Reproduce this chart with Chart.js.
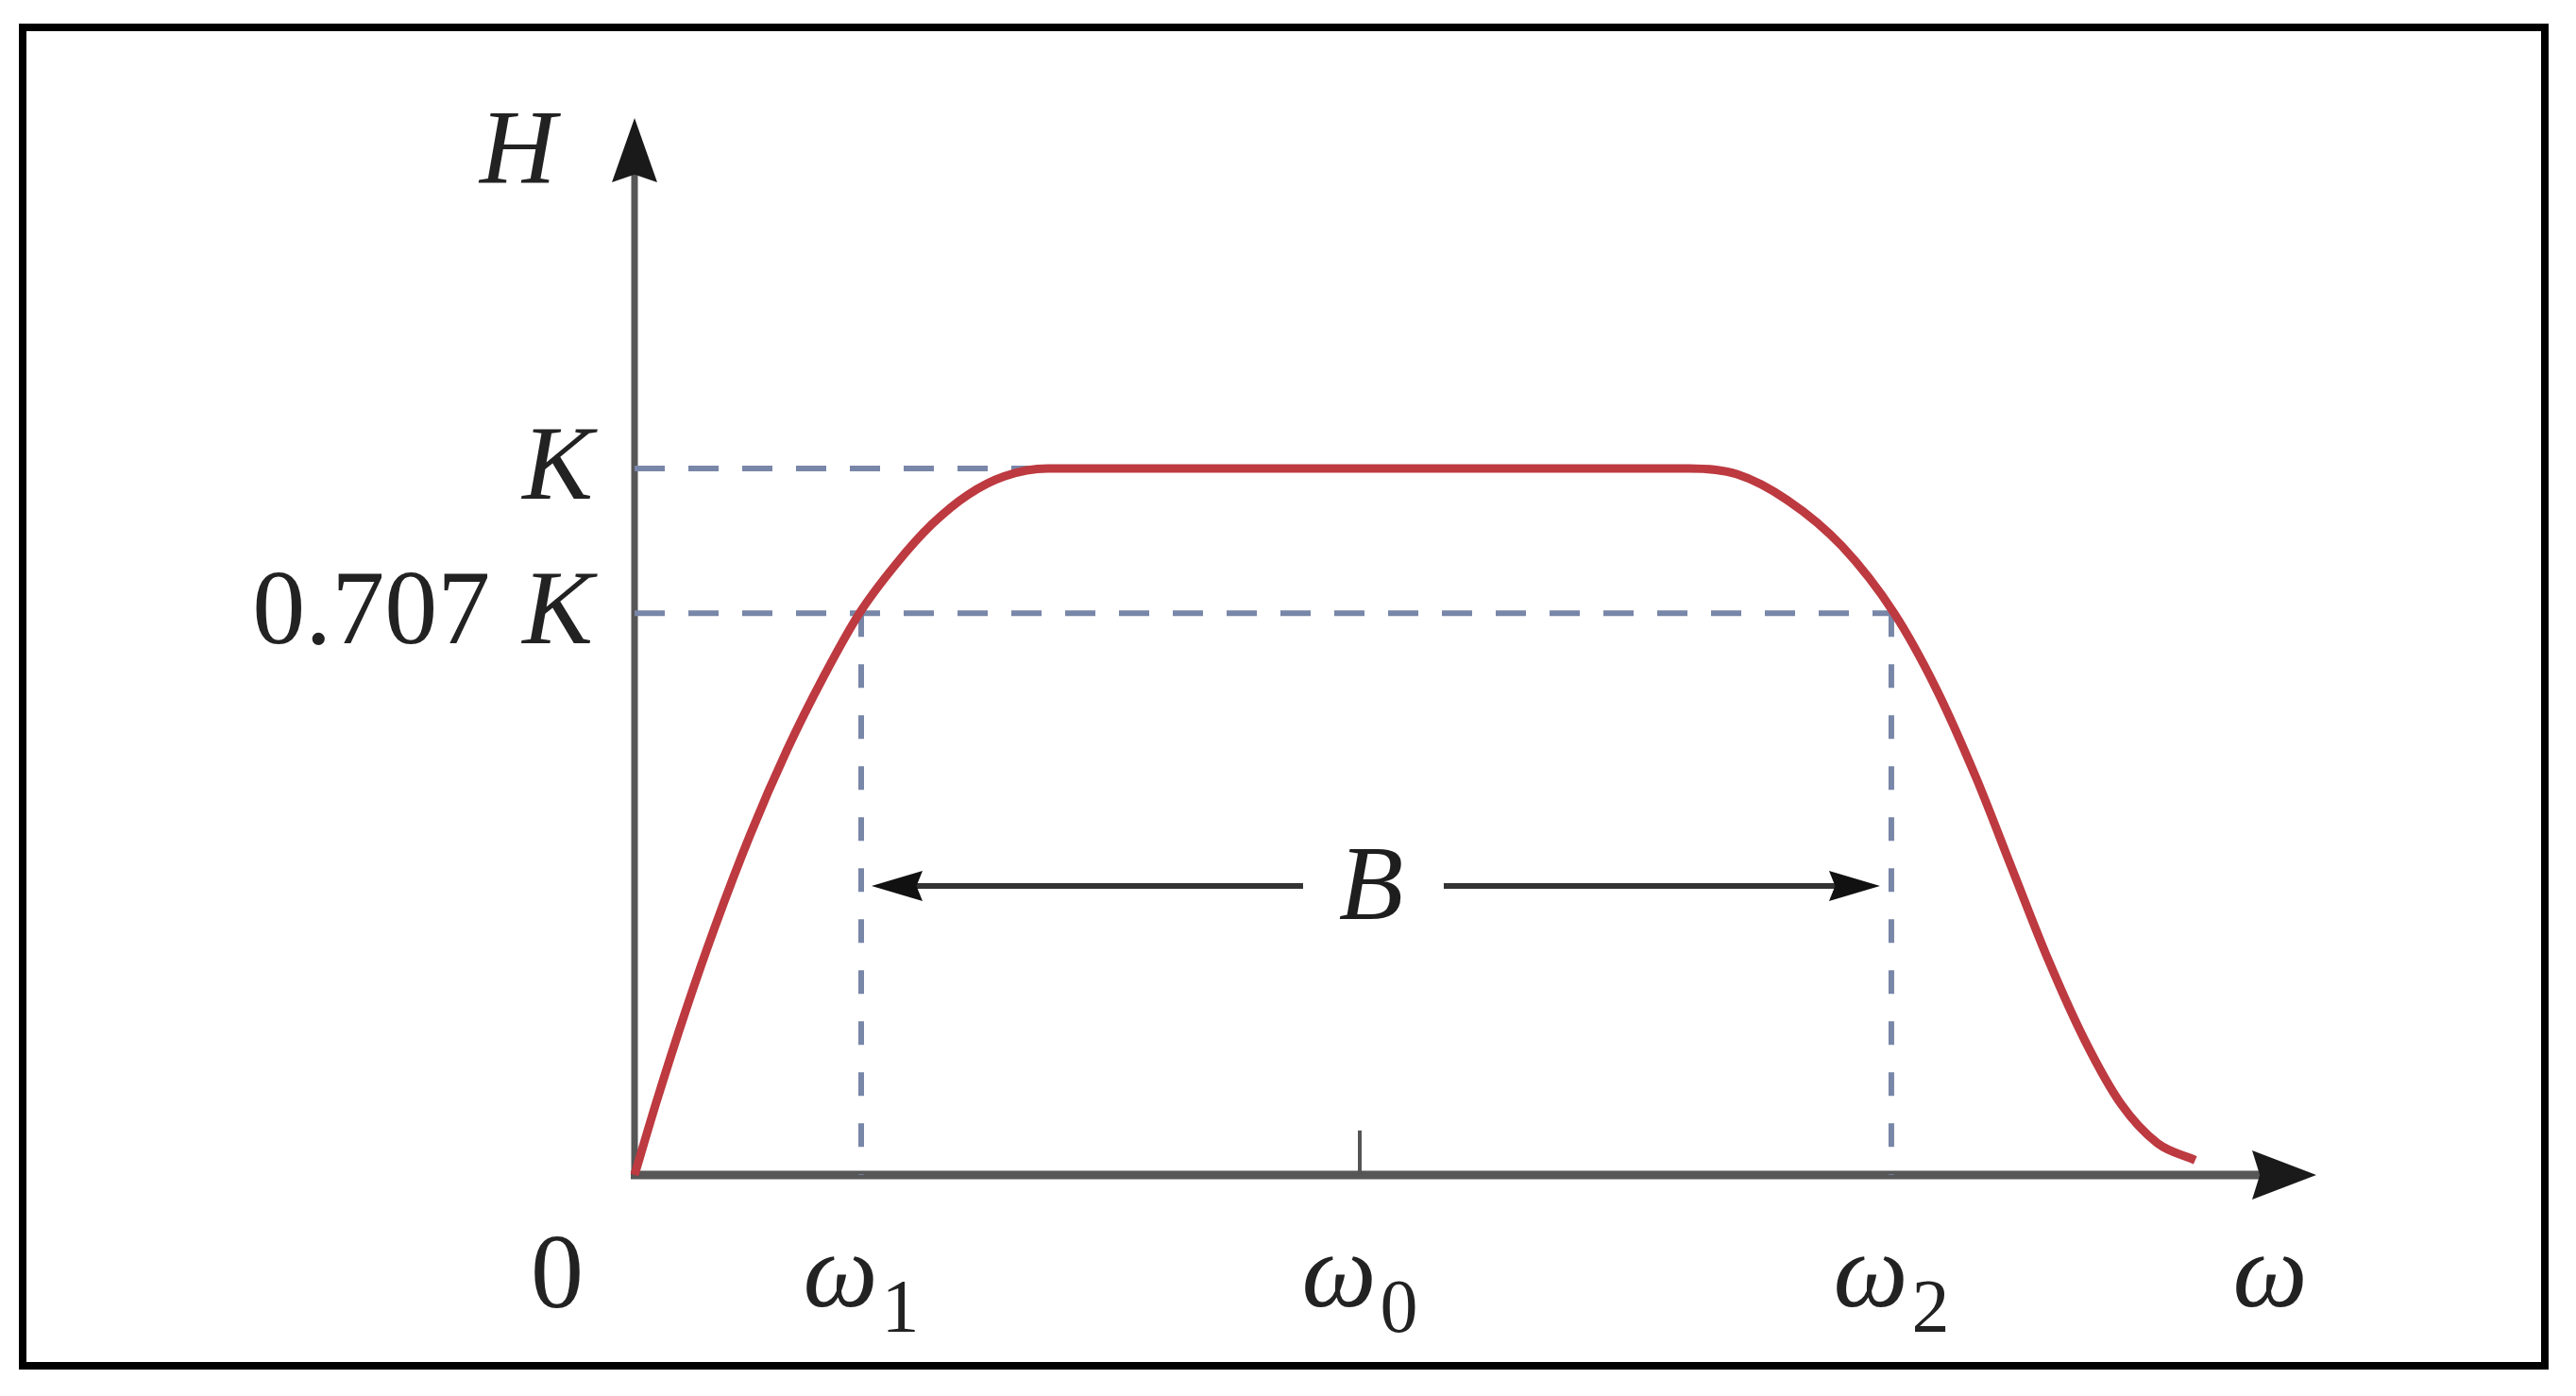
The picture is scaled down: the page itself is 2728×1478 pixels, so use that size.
<!DOCTYPE html>
<html>
<head>
<meta charset="utf-8">
<script src="https://cdn.jsdelivr.net/npm/chart.js@4/dist/chart.umd.min.js"></script>
<style>
  html, body { margin: 0; padding: 0; background: #ffffff; }
  canvas { display: block; }
</style>
</head>
<body>
<canvas id="c" width="2728" height="1478"></canvas>
<script>
// ---- data (x in units of ω0, y in units of K) ----
const curveX = [0, 0.03, 0.07, 0.11, 0.16, 0.21, 0.26, 0.31, 0.36, 0.41, 0.46, 0.51, 0.57, 1.00, 1.454, 1.52, 1.59, 1.665, 1.737, 1.795, 1.85, 1.90, 1.95, 2.00, 2.05, 2.10, 2.152];
const curveY = [0, 0.103, 0.231, 0.349, 0.483, 0.601, 0.704, 0.795, 0.864, 0.921, 0.963, 0.989, 1.00, 1.00, 1.00, 0.992, 0.955, 0.89, 0.795, 0.688, 0.562, 0.432, 0.303, 0.19, 0.10, 0.045, 0.021];
const omegaValues = [0.3125, 1.0, 1.733];            // ω1, ω0, ω2
const omegaLabels = ['1', '0', '2'];                  // subscripts
const levelValues = [1.0, 0.795];                     // K, 0.707 K (as drawn)
const levelLabels = ['K', '0.707 K'];
const kLineEnd = 0.57;                                // where curve reaches K
const bandY = 0.409;                                  // height of the B arrow
const axisMax = { x: 2.319, y: 1.496 };
const omega0Tick = 0.063;

const pts = (xs, ys) => xs.map((x, i) => ({ x: x, y: ys[i] }));
const DASH = '#7886a8';
const RED = '#bd3a40';

const datasets = [
  { data: pts(curveX, curveY), borderColor: RED, borderWidth: 9, cubicInterpolationMode: 'monotone', order: 0 },
  { data: pts([0, kLineEnd], [levelValues[0], levelValues[0]]), borderColor: DASH, borderWidth: 6, borderDash: [32, 25], order: 2 },
  { data: pts([0, omegaValues[2]], [levelValues[1], levelValues[1]]), borderColor: DASH, borderWidth: 6, borderDash: [32, 25], order: 2 },
  { data: pts([omegaValues[0], omegaValues[0]], [levelValues[1], 0]), borderColor: DASH, borderWidth: 6, borderDash: [25, 29], order: 2 },
  { data: pts([omegaValues[2], omegaValues[2]], [levelValues[1], 0]), borderColor: DASH, borderWidth: 6, borderDash: [25, 29], order: 2 },
  { data: pts([omegaValues[1], omegaValues[1]], [0, omega0Tick]), borderColor: '#555555', borderWidth: 4, order: 3 }
];

function arrowHead(ctx, tx, ty, dir, len, wid, color) {
  ctx.save();
  ctx.fillStyle = color;
  ctx.beginPath();
  const notch = len * 0.12;
  if (dir === 'up') {
    ctx.moveTo(tx, ty);
    ctx.lineTo(tx + wid / 2, ty + len);
    ctx.lineTo(tx, ty + len - notch);
    ctx.lineTo(tx - wid / 2, ty + len);
  } else if (dir === 'right') {
    ctx.moveTo(tx, ty);
    ctx.lineTo(tx - len, ty - wid / 2);
    ctx.lineTo(tx - len + notch, ty);
    ctx.lineTo(tx - len, ty + wid / 2);
  } else {
    ctx.moveTo(tx, ty);
    ctx.lineTo(tx + len, ty - wid / 2);
    ctx.lineTo(tx + len - notch, ty);
    ctx.lineTo(tx + len, ty + wid / 2);
  }
  ctx.closePath();
  ctx.fill();
  ctx.restore();
}

const SERIF = '"Liberation Serif", "DejaVu Serif", serif';

const figurePlugin = {
  id: 'figure',
  beforeDatasetsDraw(chart) {
    const ctx = chart.ctx;
    const xs = chart.scales.x, ys = chart.scales.y;
    const x0 = xs.getPixelForValue(0), y0 = ys.getPixelForValue(0);
    const xTip = xs.getPixelForValue(axisMax.x), yTip = ys.getPixelForValue(axisMax.y);
    ctx.save();
    ctx.strokeStyle = '#575757';
    ctx.lineCap = 'butt';
    ctx.lineWidth = 9;
    ctx.beginPath(); ctx.moveTo(x0 - 4, y0); ctx.lineTo(xTip - 40, y0); ctx.stroke();
    ctx.lineWidth = 7;
    ctx.beginPath(); ctx.moveTo(x0, y0 + 4); ctx.lineTo(x0, yTip + 40); ctx.stroke();
    ctx.restore();
    arrowHead(ctx, xTip, y0, 'right', 68, 52, '#1a1a1a');
    arrowHead(ctx, x0, yTip, 'up', 68, 48, '#1a1a1a');
  },
  afterDatasetsDraw(chart) {
    const ctx = chart.ctx;
    const xs = chart.scales.x, ys = chart.scales.y;
    const xl = xs.getPixelForValue(omegaValues[0]) + 11;
    const xr = xs.getPixelForValue(omegaValues[2]) - 12;
    const yb = ys.getPixelForValue(bandY);
    const xc = (xl + xr) / 2 - 5;
    ctx.save();
    ctx.strokeStyle = '#333333';
    ctx.lineWidth = 6;
    ctx.beginPath(); ctx.moveTo(xl + 40, yb); ctx.lineTo(xc - 72, yb); ctx.stroke();
    ctx.beginPath(); ctx.moveTo(xc + 77, yb); ctx.lineTo(xr - 40, yb); ctx.stroke();
    ctx.restore();
    arrowHead(ctx, xl, yb, 'left', 54, 32, '#111111');
    arrowHead(ctx, xr, yb, 'right', 54, 32, '#111111');
    ctx.save();
    ctx.fillStyle = '#1e1e1e';
    ctx.font = 'italic 112px ' + SERIF;
    ctx.textAlign = 'center';
    ctx.textBaseline = 'alphabetic';
    ctx.fillText('B', xc, yb + 35);
    ctx.restore();
  },
  afterDraw(chart) {
    const ctx = chart.ctx;
    const xs = chart.scales.x, ys = chart.scales.y;
    const x0 = xs.getPixelForValue(0), y0 = ys.getPixelForValue(0);
    const yTip = ys.getPixelForValue(axisMax.y);
    const xTip = xs.getPixelForValue(axisMax.x);
    ctx.save();
    ctx.fillStyle = '#222222';
    ctx.textBaseline = 'alphabetic';
    const ital = 'italic 112px ' + SERIF;
    const up = '112px ' + SERIF;
    const sub = '80px ' + SERIF;

    ctx.font = ital; ctx.textAlign = 'left';
    ctx.fillText('H', x0 - 164, yTip + 68);

    const rightEdge = x0 - 44;
    levelValues.forEach((v, i) => {
      const py = ys.getPixelForValue(v) + 32;
      const lab = levelLabels[i];
      ctx.font = ital;
      const kW = ctx.measureText('K').width;
      ctx.textAlign = 'left';
      ctx.fillText('K', rightEdge - kW, py);
      if (lab.length > 1) {
        ctx.font = up;
        ctx.textAlign = 'right';
        ctx.fillText(lab.replace(' K', ''), rightEdge - kW - 34, py);
      }
    });

    ctx.font = up; ctx.textAlign = 'center';
    ctx.fillText('0', x0 - 82, y0 + 140);

    const base = y0 + 139;
    omegaValues.forEach((v, i) => {
      const px = xs.getPixelForValue(v);
      ctx.font = ital;
      const wW = ctx.measureText('ω').width;
      ctx.font = sub;
      const sW = ctx.measureText(omegaLabels[i]).width;
      const total = wW + 4 + sW;
      const left = px - total / 2;
      ctx.textAlign = 'left';
      ctx.font = ital;
      ctx.fillText('ω', left, base);
      ctx.font = sub;
      ctx.fillText(omegaLabels[i], left + wW + 4, base + 27);
    });
    ctx.font = ital; ctx.textAlign = 'center';
    ctx.fillText('ω', xTip - 49, base);
    ctx.restore();

    ctx.save();
    ctx.strokeStyle = '#000000';
    ctx.lineWidth = 8;
    ctx.strokeRect(24, 29, 2671, 1417);
    ctx.restore();
  }
};

new Chart(document.getElementById('c'), {
  type: 'line',
  data: { datasets: datasets },
  options: {
    responsive: false,
    animation: false,
    devicePixelRatio: 1,
    layout: { padding: { left: 672, top: 125, right: 275, bottom: 234 } },
    scales: {
      x: { type: 'linear', min: 0, max: axisMax.x, display: false },
      y: { type: 'linear', min: 0, max: axisMax.y, display: false }
    },
    elements: { point: { radius: 0 }, line: { borderCapStyle: 'butt', fill: false } },
    plugins: { legend: { display: false }, tooltip: { enabled: false } },
    datasets: { line: { clip: false } }
  },
  plugins: [figurePlugin]
});
</script>
</body>
</html>
